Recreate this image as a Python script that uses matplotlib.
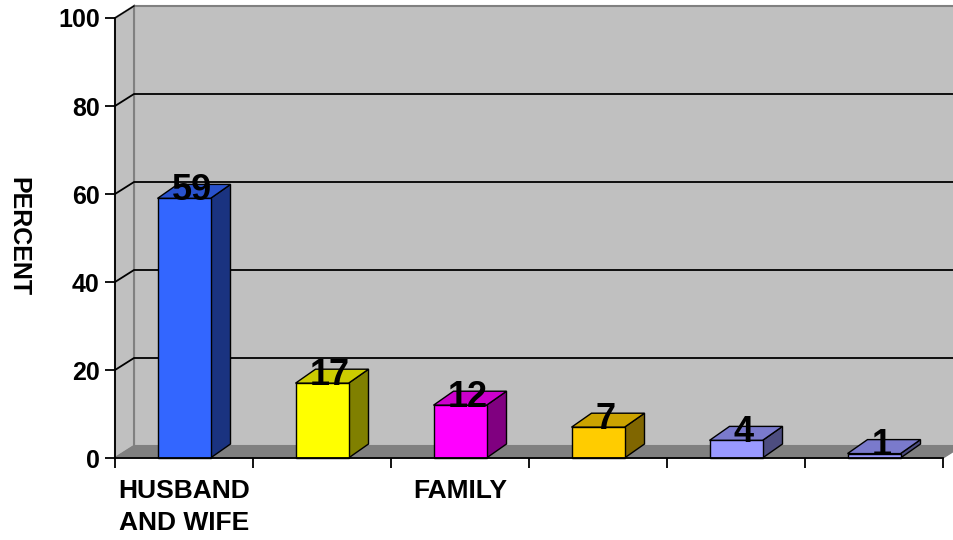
import matplotlib
matplotlib.use("Agg")
import matplotlib.pyplot as plt
from matplotlib.patches import Polygon

plt.rcParams['font.family'] = ['Liberation Sans', 'DejaVu Sans']
plt.rcParams['font.weight'] = 'bold'

# Survey shares, one bar per answer
categories = ["HUSBAND\nAND WIFE", "", "FAMILY", "", "", ""]
values = [59, 17, 12, 7, 4, 1]
front_colors = ["#3366FF", "#FFFF00", "#FF00FF", "#FFCC00", "#9999FF", "#9999FF"]
top_colors = ["#2952CC", "#CCCC00", "#CC00CC", "#CCA300", "#7A7ACC", "#7A7ACC"]
side_colors = ["#1A3380", "#808000", "#800080", "#806600", "#4D4D80", "#4D4D80"]
y_ticks = [0, 20, 40, 60, 80, 100]

W, H = 954, 540
fig = plt.figure(figsize=(W / 100, H / 100), dpi=100)
# front plane of the 3-D box
left, right, bottom, top = 115, 943, 458, 18
ax = fig.add_axes([left / W, 1 - bottom / H, (right - left) / W, (bottom - top) / H])
n = len(values)
ax.set_xlim(0, n)
ax.set_ylim(0, 100)
ax.patch.set_visible(False)

px_x = n / (right - left)      # data units per pixel
px_y = 100 / (bottom - top)

# depth of the walls / floor and of the bars
wdx, wdy = 19 * px_x, 12 * px_y
bdx, bdy = 20 * px_x, 14 * px_y
bar_w = 53 * px_x

def poly(pts, fc, ec, lw=1.0, z=1):
    ax.add_patch(Polygon(pts, closed=True, facecolor=fc, edgecolor=ec,
                         linewidth=lw, zorder=z, clip_on=False))

# back wall, side wall and floor
poly([(wdx, wdy), (n + wdx, wdy), (n + wdx, 100 + wdy), (wdx, 100 + wdy)], "#C0C0C0", "#808080", 1.5, 0)
poly([(0, 0), (wdx, wdy), (wdx, 100 + wdy), (0, 100)], "#C0C0C0", "#808080", 1.5, 0)
poly([(0, 0), (n, 0), (n + wdx, wdy), (wdx, wdy)], "#808080", "#808080", 1.0, 1)

# gridlines across side wall and back wall
for v in y_ticks[1:-1]:
    ax.plot([0, wdx, n + wdx], [v, v + wdy, v + wdy], color="black", lw=1.3,
            zorder=0.5, clip_on=False)
ax.plot([0, wdx], [100, 100 + wdy], color="black", lw=1.0, zorder=0.5, clip_on=False)

# bars
for i, v in enumerate(values):
    x0 = i + 0.5 - bar_w / 2
    x1 = i + 0.5 + bar_w / 2
    poly([(x1, 0), (x1 + bdx, bdy), (x1 + bdx, v + bdy), (x1, v)], side_colors[i], "black", 1.0, 3)
    poly([(x0, v), (x1, v), (x1 + bdx, v + bdy), (x0 + bdx, v + bdy)], top_colors[i], "black", 1.0, 3)
    poly([(x0, 0), (x1, 0), (x1, v), (x0, v)], front_colors[i], "black", 1.0, 4)
    ax.text(i + 0.5 + bdx / 2 - 2 * px_x, v - 0.3, str(v), ha="center", va="baseline",
            fontsize=26, fontweight="bold", color="black", zorder=6)

# axes
for s in ["top", "right"]:
    ax.spines[s].set_visible(False)
for s in ["left", "bottom"]:
    ax.spines[s].set_color("black")
    ax.spines[s].set_linewidth(1.3)
    ax.spines[s].set_zorder(5)

ax.set_yticks(y_ticks)
ax.set_yticklabels([str(t) for t in y_ticks], fontsize=18, fontweight="bold")
ax.tick_params(axis="y", length=7, width=1.3, pad=4, direction="out")

ax.set_xticks(range(n + 1))
ax.set_xticklabels([])
ax.tick_params(axis="x", which="major", length=7, width=1.3, direction="out")
ax.set_xticks([i + 0.5 for i in range(n)], minor=True)
ax.set_xticklabels(categories, minor=True, fontsize=19, fontweight="bold",
                   linespacing=1.45, va="top")
ax.tick_params(axis="x", which="minor", length=0, pad=15)

fig.text(18 / W, 1 - 237 / H, "PERCENT", rotation=-90, ha="center", va="center",
         fontsize=18, fontweight="bold")

fig.savefig("out.png", dpi=100)
